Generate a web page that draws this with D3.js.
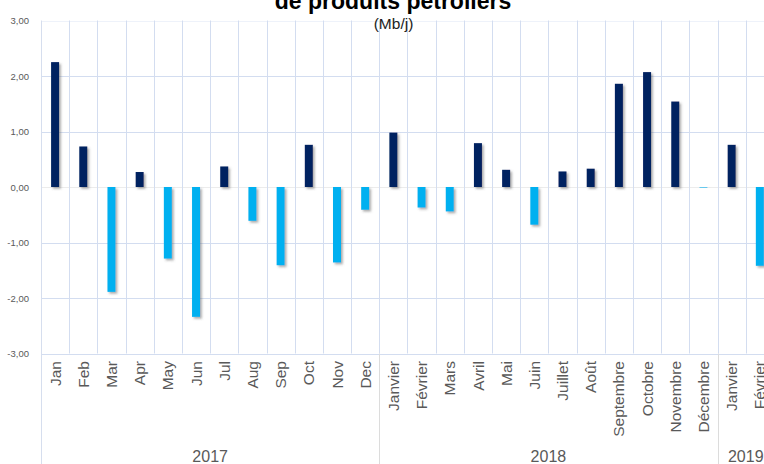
<!DOCTYPE html>
<html>
<head>
<meta charset="utf-8">
<script src="https://cdn.jsdelivr.net/npm/d3@7"></script>
<style>
  html, body { margin: 0; padding: 0; background: #ffffff; }
  svg { display: block; font-family: Arial, "Liberation Sans", sans-serif; }
</style>
</head>
<body>
<svg id="chart" width="764" height="464"></svg>
<script>
// Monthly variation of petroleum product stocks (Mb/j)
const years = ["2017", "2018", "2019"];
const months2017 = ["Jan", "Feb", "Mar", "Apr", "May", "Jun", "Jul", "Aug", "Sep", "Oct", "Nov", "Dec"];
const months2018 = ["Janvier", "Février", "Mars", "Avril", "Mai", "Juin", "Juillet", "Août", "Septembre", "Octobre", "Novembre", "Décembre"];
const months2019 = ["Janvier", "Février"];
const values2017 = [2.25, 0.73, -1.89, 0.27, -1.29, -2.34, 0.37, -0.61, -1.41, 0.76, -1.36, -0.41];
const values2018 = [0.98, -0.37, -0.44, 0.79, 0.31, -0.68, 0.28, 0.33, 1.86, 2.07, 1.54, -0.01];
const values2019 = [0.76, -1.42];
const yTicks = [-3, -2, -1, 0, 1, 2, 3];
const titleText = "de produits pétroliers";
const unitText = "(Mb/j)";

const groups = [
  { year: years[0], months: months2017, values: values2017 },
  { year: years[1], months: months2018, values: values2018 },
  { year: years[2], months: months2019, values: values2019 }
];
const rows = groups.flatMap(g => g.months.map((m, i) => ({ key: g.year + "-" + m, year: g.year, month: m, value: g.values[i] })));

const svg = d3.select("#chart");
const plotLeft = 41, slot = 28.19, plotTop = 20.5, plotBottom = 353.5;

const x = d3.scaleBand().domain(rows.map(r => r.key)).range([plotLeft, plotLeft + slot * rows.length]).padding(0);
const y = d3.scaleLinear().domain([-3, 3]).range([plotBottom, plotTop]);

const defs = svg.append("defs");
const f = defs.append("filter").attr("id", "shadow").attr("x", "-50%").attr("y", "-50%").attr("width", "220%").attr("height", "200%");
f.append("feDropShadow").attr("dx", 1.8).attr("dy", 1.8).attr("stdDeviation", 1.2)
  .attr("flood-color", "#5a5a5a").attr("flood-opacity", 0.5);

const grid = "#d3ddf0";

// horizontal gridlines
svg.append("g").selectAll("line").data(yTicks).join("line")
  .attr("x1", plotLeft).attr("x2", 764)
  .attr("y1", d => Math.round(y(d)) + 0.5).attr("y2", d => Math.round(y(d)) + 0.5)
  .attr("stroke", d => d === 0 ? "#ececec" : d === 3 ? "#eef2fa" : grid)
  .attr("stroke-width", 1);

// vertical gridlines at category boundaries
const bounds = d3.range(1, rows.length + 1).map(i => plotLeft + i * slot);
svg.append("g").selectAll("line").data(bounds).join("line")
  .attr("x1", d => Math.round(d) + 0.5).attr("x2", d => Math.round(d) + 0.5)
  .attr("y1", plotTop).attr("y2", plotBottom)
  .attr("stroke", grid).attr("stroke-width", 1);

// year separators below the axis
let acc = 0;
const sepX = groups.slice(0, -1).map(g => { acc += g.months.length; return plotLeft + acc * slot; });
svg.append("g").selectAll("line").data(sepX).join("line")
  .attr("x1", d => Math.round(d) + 0.5).attr("x2", d => Math.round(d) + 0.5)
  .attr("y1", plotBottom).attr("y2", 464)
  .attr("stroke", "#dcdcdc").attr("stroke-width", 1);

// left axis line
svg.append("line")
  .attr("x1", plotLeft + 0.5).attr("x2", plotLeft + 0.5).attr("y1", plotTop).attr("y2", 464)
  .attr("stroke", "#d6deee").attr("stroke-width", 1);

// y axis labels
const yAxis = d3.axisLeft(y).tickValues(yTicks).tickSize(0).tickPadding(12)
  .tickFormat(d => d3.format(".2f")(d).replace(".", ",").replace("−", "-"));
const ya = svg.append("g").attr("transform", `translate(${plotLeft},0)`).call(yAxis);
ya.select(".domain").remove();
ya.selectAll("text").attr("fill", "#595959").attr("font-size", "9.5px")
  .attr("font-family", "Arial, 'Liberation Sans', sans-serif");

// bars
const barW = 8;
svg.append("g").selectAll("rect").data(rows).join("rect")
  .attr("x", d => x(d.key) + x.bandwidth() / 2 - barW / 2)
  .attr("width", barW)
  .attr("y", d => y(Math.max(0, d.value)))
  .attr("height", d => Math.abs(y(d.value) - y(0)))
  .attr("fill", d => d.value >= 0 ? "#002060" : "#00b0f0")
  .attr("filter", "url(#shadow)");

// month labels
const xAxis = d3.axisBottom(x).tickSize(0).tickPadding(0).tickFormat(k => k.split("-")[1]);
const xa = svg.append("g").attr("transform", `translate(0,${plotBottom})`).call(xAxis);
xa.select(".domain").remove();
xa.selectAll("text")
  .attr("transform", "rotate(-90)")
  .attr("text-anchor", "end")
  .attr("x", -7.5).attr("y", 0).attr("dy", "0.36em")
  .attr("fill", "#595959").attr("font-size", "15.5px")
  .attr("font-family", "Arial, 'Liberation Sans', sans-serif");

// year labels centred under their months
function boundaryX(i) { return plotLeft + i * slot; }
let start = 0;
const yearPos = groups.map(g => {
  const a = boundaryX(start), b = boundaryX(start + g.months.length);
  start += g.months.length;
  return { year: g.year, cx: (a + b) / 2 };
});
svg.append("g").selectAll("text").data(yearPos).join("text")
  .attr("x", d => d.cx).attr("y", 462)
  .attr("text-anchor", "middle")
  .attr("fill", "#595959").attr("font-size", "16px")
  .text(d => d.year);

// title
svg.append("text").attr("x", 393).attr("y", 9).attr("text-anchor", "middle")
  .attr("font-weight", "bold").attr("font-size", "23px").attr("fill", "#000")
  .text(titleText);
svg.append("text").attr("x", 393.5).attr("y", 29).attr("text-anchor", "middle")
  .attr("font-size", "15.5px").attr("fill", "#222")
  .text(unitText);
</script>
</body>
</html>
